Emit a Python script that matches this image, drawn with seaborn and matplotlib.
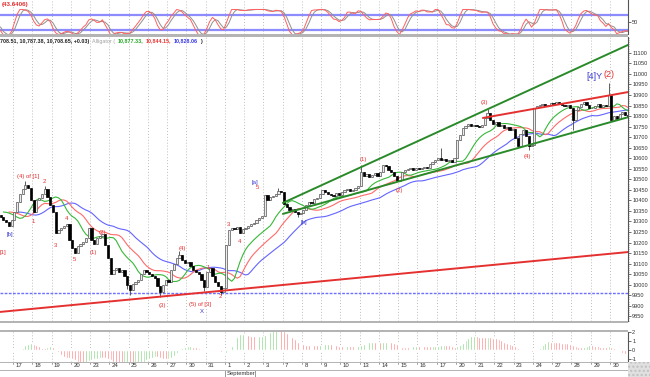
import numpy as np
import pandas as pd
import seaborn as sns
import matplotlib.pyplot as plt
from matplotlib.patches import Rectangle

# hourly closes, 7 bars per session
DAY_NAMES = ['Aug16', 'Aug17', 'Aug18', 'Aug19', 'Aug20',
             'Aug23', 'Aug24', 'Aug25', 'Aug26', 'Aug27',
             'Aug30', 'Aug31', 'Sep01', 'Sep02', 'Sep03',
             'Sep07', 'Sep08', 'Sep09', 'Sep10',
             'Sep13', 'Sep14', 'Sep15', 'Sep16', 'Sep17',
             'Sep20', 'Sep21', 'Sep22', 'Sep23', 'Sep24',
             'Sep27', 'Sep28', 'Sep29', 'Sep30']
DAY_TICKS = ['17', '18', '19', '20', '23', '24', '25', '26', '27', '30', '31',
             '1', '2', '3', '7', '8', '9', '10', '13', '14', '15', '16', '17',
             '20', '21', '22', '23', '24', '27', '28', '29', '30']

WEEK_AUG16 = [10345, 10331, 10321, 10307, 10298, 10279, 10307,
              10345, 10392, 10430, 10454, 10473, 10459, 10402,
              10345, 10402, 10411, 10430, 10454, 10416, 10378,
              10345, 10246, 10260, 10269, 10279, 10288, 10212,
              10174, 10151, 10184, 10193, 10203, 10222, 10269]
WEEK_AUG23 = [10212, 10193, 10222, 10231, 10241, 10189, 10127,
              10051, 10070, 10080, 10061, 10070, 10042, 9999,
              9975, 10004, 10013, 10023, 10051, 10070, 10061,
              10051, 10042, 10032, 9994, 9966, 9999, 10023,
              10013, 10070, 10099, 10127, 10141, 10118, 10103]
WEEK_AUG30 = [10108, 10089, 10070, 10061, 10051, 10023, 9990,
              10061, 10080, 10042, 10013, 9994, 9966, 9985,
              10189, 10260, 10269, 10265, 10274, 10246, 10265,
              10269, 10279, 10288, 10293, 10307, 10317, 10326,
              10425, 10402, 10416, 10421, 10430, 10444, 10440]
WEEK_SEP07 = [10383, 10369, 10354, 10359, 10345, 10336, 10340,
              10354, 10378, 10392, 10388, 10407, 10411, 10430,
              10449, 10440, 10430, 10425, 10421, 10435, 10425,
              10440, 10449, 10454, 10444, 10449, 10459, 10468]
WEEK_SEP13 = [10535, 10516, 10525, 10511, 10520, 10530, 10516,
              10535, 10568, 10563, 10544, 10535, 10516, 10492,
              10497, 10535, 10544, 10549, 10554, 10544, 10554,
              10549, 10554, 10558, 10554, 10573, 10582, 10591,
              10601, 10591, 10596, 10587, 10591, 10582, 10601]
WEEK_SEP20 = [10686, 10710, 10743, 10753, 10762, 10753, 10757,
              10753, 10748, 10757, 10791, 10814, 10781, 10762,
              10772, 10753, 10757, 10743, 10748, 10734, 10739,
              10696, 10658, 10715, 10734, 10705, 10658, 10663,
              10838, 10848, 10852, 10857, 10848, 10852, 10862]
WEEK_SEP27 = [10857, 10867, 10857, 10852, 10848, 10852, 10838,
              10781, 10829, 10843, 10857, 10867, 10852, 10838,
              10838, 10848, 10857, 10843, 10852, 10848, 10900,
              10781, 10800, 10786, 10810, 10819, 10805, 10795]

# visible wick extremes (day, hour of session, price)
HIGH_WICKS = [('Aug17', 4, 10490), ('Aug18', 4, 10470), ('Aug27', 4, 10160),
              ('Sep03', 5, 10459), ('Sep13', 0, 10568), ('Sep17', 1, 10648),
              ('Sep21', 4, 10835), ('Sep29', 6, 10957)]
LOW_WICKS = [('Aug24', 6, 9980), ('Aug25', 0, 9951), ('Aug26', 4, 9942),
             ('Aug30', 6, 9970), ('Aug31', 5, 9950), ('Sep07', 5, 10320),
             ('Sep23', 5, 10640), ('Sep28', 0, 10734)]

SUPPORT_LEVEL = 9961
# hand drawn trend lines: (bar, price) end points
RED_SUPPORT = [(1.77, 9871), (230.05, 10155)]
GREEN_UPPER = [(104.6, 10388), (231, 11143)]
GREEN_LOWER = [(104.6, 10336), (231, 10798)]
RED_UPPER = [(177.3, 10791), (231, 10916)]

WAVE_LABELS = [
    ('[1]', 2.9, 10151, 'r'), ('[b]', 5.4, 10236, 'b'),
    ('(4) of [1]', 11.9, 10511, 'r'), ('2', 17.8, 10492, 'r'), ('1', 13.8, 10302, 'r'),
    ('3', 21.8, 10184, 'r'), ('4', 25.8, 10312, 'r'), ('5', 29.0, 10118, 'r'),
    ('(1)', 35.6, 10155, 'r'), ('(2)', 38.8, 10250, 'r'), ('(3)', 60.7, 9900, 'r'),
    ('(4)', 67.9, 10170, 'r'), ('(5) of [3]', 74.5, 9904, 'r'), ('X', 75.2, 9871, 'b'),
    ('1', 77.4, 10084, 'r'), ('2', 81.7, 9942, 'r'), ('3', 84.7, 10288, 'r'),
    ('4', 89.0, 10203, 'r'), ('[a]', 94.5, 10487, 'b'), ('5', 95.2, 10459, 'r'),
    ('[b]', 112.3, 10293, 'b'), ('(1)', 133.7, 10596, 'r'), ('(2)', 146.8, 10445, 'r'),
    ('(3)', 177.7, 10862, 'r'), ('(4)', 193.3, 10606, 'r'),
]
BIG_LABELS = [('[4]Y', 217.7, 10990, 'b'), ('(2)', 223.1, 10995, 'r')]

HEADER_PARTS = [('708.51, 10,787.38, 10,708.65, +0.03)', '#222222'),
                ('Alligator (', '#a0a0a0'),
                ('10,877.33,', '#22aa22'),
                ('10,844.15,', '#ee3333'),
                ('10,828.06', '#3333ee'),
                (')', '#222222')]

RED = '#e53030'
BLUE = '#3a3ad0'
GREEN = '#2a8a2a'
XMIN, XMAX = 1.77, 230.05


def build_bars():
    closes = np.concatenate([WEEK_AUG16, WEEK_AUG23, WEEK_AUG30, WEEK_SEP07,
                             WEEK_SEP13, WEEK_SEP20, WEEK_SEP27]).astype(float)
    opens = np.r_[closes[0], closes[:-1]]
    highs = np.maximum(opens, closes)
    lows = np.minimum(opens, closes)
    for day, k, v in HIGH_WICKS:
        i = DAY_NAMES.index(day) * 7 + k
        highs[i] = max(highs[i], v)
    for day, k, v in LOW_WICKS:
        i = DAY_NAMES.index(day) * 7 + k
        lows[i] = min(lows[i], v)
    return pd.DataFrame({'pos': np.arange(len(closes)), 'open': opens,
                         'high': highs, 'low': lows, 'close': closes})


def day_grid(ax):
    starts = np.arange(1, len(DAY_NAMES)) * 7 - 0.5
    for s in starts:
        ax.axvline(s, color='#a8a8a8', lw=0.6, ls=(0, (1, 2.5)), zorder=0)


def style_axis(ax):
    ax.set_xlim(XMIN, XMAX)
    ax.set_xticks([])
    ax.yaxis.tick_right()
    ax.tick_params(axis='y', labelsize=4.1, length=1.8, width=0.5, pad=1.2, colors='#333333')
    for side in ['left', 'top', 'bottom']:
        ax.spines[side].set_visible(False)
    ax.spines['right'].set_color('#555555')
    ax.spines['right'].set_linewidth(0.8)


sns.set_style('white')
plt.rcParams['font.family'] = ['Liberation Sans', 'DejaVu Sans']

df = build_bars()
pos = df['pos'].values
median = (df['high'] + df['low']) / 2

W, H = 650, 377
fig = plt.figure(figsize=(6.5, 3.77), dpi=100)


def rect(x0, y0, x1, y1):
    return [x0 / W, 1 - y1 / H, (x1 - x0) / W, (y1 - y0) / H]


ax_osc = fig.add_axes(rect(0, 0, 628, 34))
ax_main = fig.add_axes(rect(0, 37, 628, 321))
ax_ao = fig.add_axes(rect(0, 332, 628, 362))

# --- stochastic oscillator ---
hh = df['high'].rolling(8, min_periods=1).max()
ll = df['low'].rolling(8, min_periods=1).min()
k_raw = (100 * (df['close'] - ll) / (hh - ll)).fillna(50)
k_line = k_raw.rolling(3, min_periods=1).mean()
d_line = k_line.rolling(3, min_periods=1).mean()
day_grid(ax_osc)
for lvl in [80, 20]:
    ax_osc.axhline(lvl, color='#8c8cff', lw=1.6, zorder=1)
sns.lineplot(x=pos, y=d_line.values, ax=ax_osc, color='#909090', lw=0.7, zorder=2)
sns.lineplot(x=pos, y=k_line.values, ax=ax_osc, color='#ff6060', lw=0.7, zorder=3)
style_axis(ax_osc)
ax_osc.set_ylim(4, 137)
ax_osc.set_yticks([50])
ax_osc.set_yticklabels(['50'])
ax_osc.text(0.002, 0.93, '(43.6406)', transform=ax_osc.transAxes, color=RED,
            fontsize=4.5, fontweight='bold', va='top', ha='left')

# --- price panel ---
day_grid(ax_main)
up = df['close'] >= df['open']
ax_main.vlines(pos, df['low'], df['high'], color='#444444', lw=0.6, zorder=4)
ax_main.bar(pos[up], (df['close'] - df['open'])[up], bottom=df['open'][up], width=0.8,
            color='#ececec', edgecolor='#555555', lw=0.5, zorder=5)
ax_main.bar(pos[~up], (df['open'] - df['close'])[~up], bottom=df['close'][~up], width=0.8,
            color='black', edgecolor='black', lw=0.5, zorder=5)

# alligator lines
jaw = median.ewm(alpha=1 / 13, adjust=False).mean()
teeth = median.ewm(alpha=1 / 8, adjust=False).mean()
lips = median.ewm(alpha=1 / 5, adjust=False).mean()
sns.lineplot(x=pos + 8, y=jaw.values, ax=ax_main, color='#6464ff', lw=0.8, zorder=3)
sns.lineplot(x=pos + 5, y=teeth.values, ax=ax_main, color='#ff6a6a', lw=0.8, zorder=3)
sns.lineplot(x=pos + 3, y=lips.values, ax=ax_main, color='#38b838', lw=0.8, zorder=3)

ax_main.axhline(SUPPORT_LEVEL, color='#7070ff', lw=1.0, ls=(0, (2, 1)), zorder=2)
ax_main.axline(RED_SUPPORT[0], RED_SUPPORT[1], color=RED, lw=1.4, zorder=6)
for seg, col in [(GREEN_UPPER, GREEN), (GREEN_LOWER, GREEN), (RED_UPPER, RED)]:
    ax_main.plot([seg[0][0], seg[1][0]], [seg[0][1], seg[1][1]], color=col, lw=1.4, zorder=6)

for txt, x, y, c in WAVE_LABELS:
    ax_main.text(x, y, txt, color=RED if c == 'r' else BLUE, fontsize=4.3,
                 ha='center', va='center', zorder=7)
for txt, x, y, c in BIG_LABELS:
    ax_main.text(x, y, txt, color=RED if c == 'r' else BLUE, fontsize=6.5,
                 ha='center', va='center', zorder=7)

style_axis(ax_main)
ax_main.set_ylim(9828, 11175)
ax_main.set_yticks(np.arange(9850, 11101, 50))
ax_main.set_yticks(np.arange(9830, 11175, 10), minor=True)
ax_main.tick_params(axis='y', which='minor', length=1, width=0.4, colors='#555555')

# header line of the price panel, pieces placed one after another
renderer = fig.canvas.get_renderer()
hdr_y = 1 - 41 / H
x_px = 0
for txt, col in HEADER_PARTS:
    t = fig.text(x_px / W, hdr_y, txt, fontsize=3.9, color=col, va='center', ha='left',
                 fontweight='normal' if col == '#a0a0a0' else 'bold')
    x_px = t.get_window_extent(renderer).x1 + 2.5

# --- awesome oscillator ---
ao = median.rolling(5, min_periods=1).mean() - median.rolling(34, min_periods=1).mean()
rising = ao.diff().fillna(0) >= 0
day_grid(ax_ao)
ax_ao.bar(pos[rising], ao[rising], width=0.7, color='#7fd67f', zorder=3)
ax_ao.bar(pos[~rising], ao[~rising], width=0.7, color='#ff8080', zorder=3)
style_axis(ax_ao)
ax_ao.set_ylim(-130, 200)
ax_ao.set_yticks([200, 100, 0, -100])
ax_ao.set_yticklabels(['2', '1', '0', '-1'])

# date row
starts = np.arange(1, len(DAY_NAMES)) * 7 - 0.5
for s, lab in zip(starts, DAY_TICKS):
    ax_ao.text(s + 0.9, -0.03, lab, transform=ax_ao.get_xaxis_transform(),
               fontsize=4.3, color='#333333', ha='left', va='top')
    ax_ao.plot([s, s], [-0.0, -0.08], transform=ax_ao.get_xaxis_transform(),
               color='#777777', lw=0.5, clip_on=False)
sep_x = (starts[11] - XMIN) * (628 / (XMAX - XMIN))
fig.text((sep_x + 2) / W, 1 - 374 / H, 'September', fontsize=4.2, color='#333333',
         va='center', ha='left')
fig.add_artist(Rectangle((sep_x / W, 0), 30 / W, 7 / H, transform=fig.transFigure,
                         fill=False, edgecolor='#888888', lw=0.6))

# panel separators
for y0, y1 in [(34, 37), (321, 323), (330, 332), (362, 363), (370, 371)]:
    fig.add_artist(Rectangle((0, 1 - y1 / H), 628 / W, (y1 - y0) / H,
                             transform=fig.transFigure, color='#b4b4b4', lw=0))
fig.add_artist(Rectangle((628 / W, 0), 22 / W, 15 / H, transform=fig.transFigure,
                         facecolor='#e0e0e0', edgecolor='#c0c0c0', hatch='....', lw=0))

fig.savefig('out.png', dpi=100)
